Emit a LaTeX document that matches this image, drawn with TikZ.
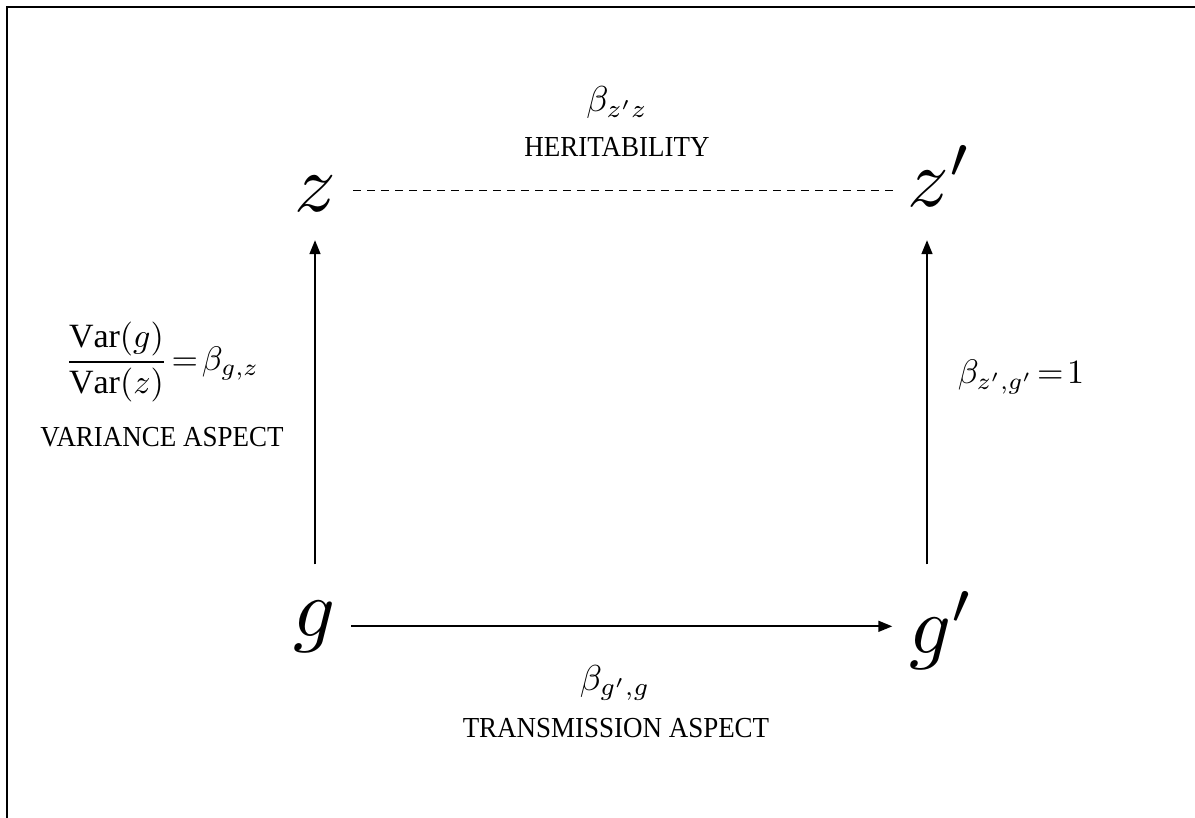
\documentclass[tikz,border=0pt]{standalone}
\usepackage{amsmath}
\usepackage{fontspec}
\setmainfont{Liberation Serif}
\usetikzlibrary{arrows.meta,calc}
\begin{document}
\begin{tikzpicture}[x=1pt,y=-1pt,
  big/.style={inner sep=0pt, anchor=base},
  lbl/.style={inner sep=0pt, font=\fontsize{29}{34}\selectfont},
  mlbl/.style={inner sep=0pt},
  arr/.style={line width=1.7pt, -{Triangle[length=14pt,width=11pt]}},
  dashline/.style={line width=1.5pt, dash pattern=on 8pt off 6pt},
  frame/.style={line width=1.6pt}]
\useasboundingbox (0,0) rectangle (1195,818);
\draw[frame] (7,818) -- (7,7) -- (1195,7);

\node[big] (z) at (315,212) {\scalebox{8.2}{$z$}};
\node[big] (zp) at (940,207) {\scalebox{8.2}{$z'$}};
\node[big] (g) at (315,636) {\scalebox{8.2}{$g$}};
\node[big] (gp) at (942,653) {\scalebox{8.2}{$g'$}};

\draw[arr] ($(g.north)+(0,-36)$) -- ($(z.south)+(0,28)$);
\draw[arr] ($(g.north -| zp.south)+(-13,-36)$) -- ($(zp.south)+(-13,33)$);
\draw[arr] ($(g.east)+(15,0)$) -- ($(g.east -| gp.west)+(-17,0)$);
\draw[dashline] ($(z.east)+(17,-4)$) -- ($(z.east -| zp.west)+(-14,-4)$);

\node[mlbl] (bzz) at (617,103) {\scalebox{3.6}{$\beta_{z'z}$}};
\node[lbl] (her) at (617,147) {\scalebox{0.93}[1]{HERITABILITY}};
\node[mlbl] (frac) at (162,362) {\scalebox{3.4}{$\dfrac{\mathrm{Var}(g)}{\mathrm{Var}(z)}\mkern2mu{=}\mkern2mu\beta_{g,z}$}};
\node[lbl] (var) at (162,437) {\scalebox{0.93}[1]{VARIANCE ASPECT}};
\node[mlbl] (bzg) at (1021,377) {\scalebox{3.4}{$\beta_{z',g'}\mkern2mu{=}\mkern2mu1$}};
\node[mlbl] (bgg) at (615,683) {\scalebox{3.6}{$\beta_{g',g}$}};
\node[lbl] (trans) at (616,728) {\scalebox{0.93}[1]{TRANSMISSION ASPECT}};
\end{tikzpicture}
\end{document}
